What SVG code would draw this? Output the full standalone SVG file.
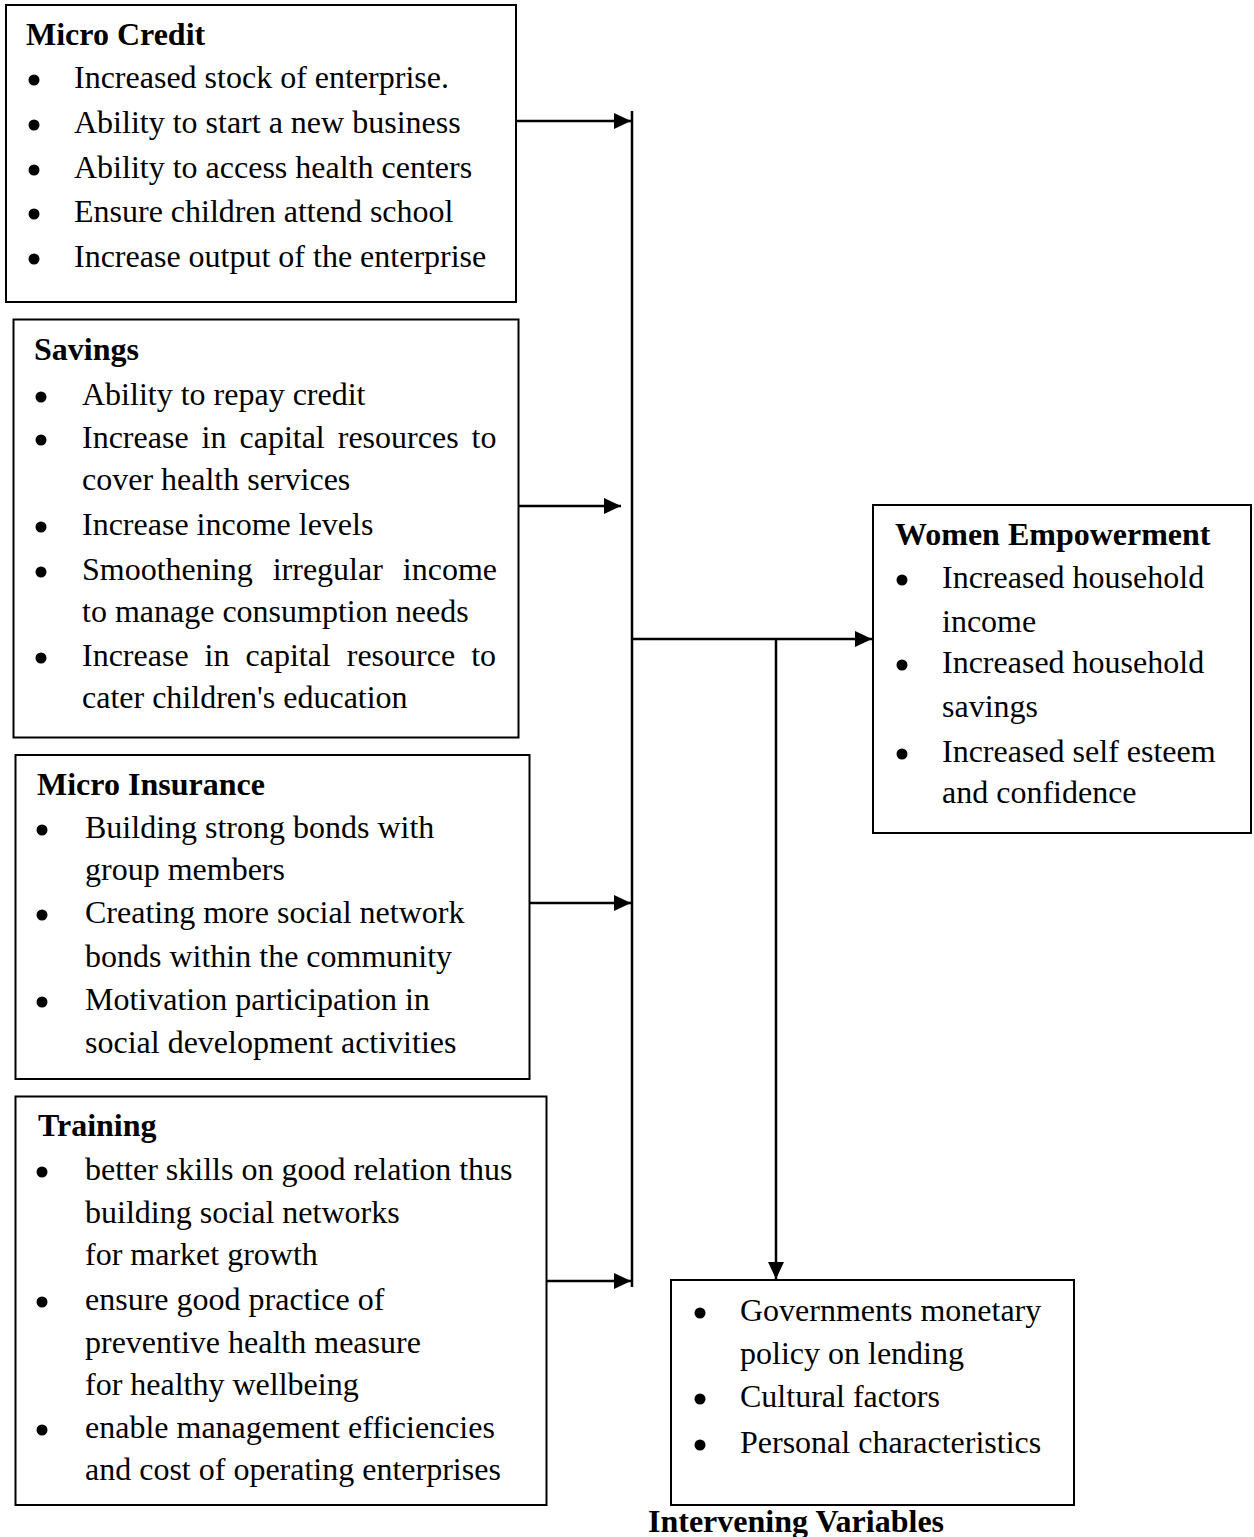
<svg xmlns="http://www.w3.org/2000/svg" width="1254" height="1537" viewBox="0 0 1254 1537">
<style>
.box{fill:#fff;stroke:#000;stroke-width:2}
.t{font-family:"Liberation Serif","Times New Roman",serif;font-size:32px;fill:#000}
.h{font-family:"Liberation Serif","Times New Roman",serif;font-size:32px;font-weight:bold;fill:#000}
.b{fill:#000}
.c{stroke:#000;stroke-width:2.5;fill:none}
</style>
<defs>
<marker id="ah" markerUnits="userSpaceOnUse" viewBox="0 0 17 16" markerWidth="17" markerHeight="16" refX="17" refY="8" orient="auto">
<path d="M0,0 L17,8 L0,16 Z" fill="#000"/>
</marker>
</defs>
<rect width="1254" height="1537" fill="#fff"/>

<g id="micro-credit">
<rect class="box" x="6" y="5" width="510" height="297"/>
<text class="h" x="26" y="45">Micro Credit</text>
<circle class="b" cx="34" cy="80" r="5.5"/><text class="t" x="74" y="88">Increased stock of enterprise.</text>
<circle class="b" cx="34" cy="125" r="5.5"/><text class="t" x="74" y="133">Ability to start a new business</text>
<circle class="b" cx="34" cy="170" r="5.5"/><text class="t" x="74" y="178">Ability to access health centers</text>
<circle class="b" cx="34" cy="214" r="5.5"/><text class="t" x="74" y="222">Ensure children attend school</text>
<circle class="b" cx="34" cy="259" r="5.5"/><text class="t" x="74" y="267">Increase output of the enterprise</text>
</g>

<g id="savings">
<rect class="box" x="13.5" y="319.5" width="505" height="418"/>
<text class="h" x="34" y="360">Savings</text>
<circle class="b" cx="41" cy="397" r="5.5"/><text class="t" x="82" y="405">Ability to repay credit</text>
<circle class="b" cx="41" cy="440" r="5.5"/><text class="t" x="82" y="448" word-spacing="5">Increase in capital resources to</text>
<text class="t" x="82" y="490">cover health services</text>
<circle class="b" cx="41" cy="527" r="5.5"/><text class="t" x="82" y="535">Increase income levels</text>
<circle class="b" cx="41" cy="572" r="5.5"/><text class="t" x="82" y="580" word-spacing="12">Smoothening irregular income</text>
<text class="t" x="82" y="622">to manage consumption needs</text>
<circle class="b" cx="41" cy="658" r="5.5"/><text class="t" x="82" y="666" word-spacing="8">Increase in capital resource to</text>
<text class="t" x="82" y="708">cater children's education</text>
</g>

<g id="micro-insurance">
<rect class="box" x="15.5" y="755" width="514" height="324"/>
<text class="h" x="37" y="795">Micro Insurance</text>
<circle class="b" cx="42" cy="830" r="5.5"/><text class="t" x="85" y="838">Building strong bonds with</text>
<text class="t" x="85" y="880">group members</text>
<circle class="b" cx="42" cy="915" r="5.5"/><text class="t" x="85" y="923">Creating more social network</text>
<text class="t" x="85" y="967">bonds within the community</text>
<circle class="b" cx="42" cy="1002" r="5.5"/><text class="t" x="85" y="1010">Motivation participation in</text>
<text class="t" x="85" y="1053">social development activities</text>
</g>

<g id="training">
<rect class="box" x="15.5" y="1096.5" width="531" height="408.5"/>
<text class="h" x="38" y="1136">Training</text>
<circle class="b" cx="42" cy="1172" r="5.5"/><text class="t" x="85" y="1180">better skills on good relation thus</text>
<text class="t" x="85" y="1223">building social networks</text>
<text class="t" x="85" y="1265">for market growth</text>
<circle class="b" cx="42" cy="1302" r="5.5"/><text class="t" x="85" y="1310">ensure good practice of</text>
<text class="t" x="85" y="1353">preventive health measure</text>
<text class="t" x="85" y="1395">for healthy wellbeing</text>
<circle class="b" cx="42" cy="1430" r="5.5"/><text class="t" x="85" y="1438">enable management efficiencies</text>
<text class="t" x="85" y="1480">and cost of operating enterprises</text>
</g>

<g id="women-empowerment">
<rect class="box" x="873" y="505" width="378" height="328"/>
<text class="h" x="895" y="545">Women Empowerment</text>
<circle class="b" cx="902" cy="580" r="5.5"/><text class="t" x="942" y="588">Increased household</text>
<text class="t" x="942" y="632">income</text>
<circle class="b" cx="902" cy="665" r="5.5"/><text class="t" x="942" y="673">Increased household</text>
<text class="t" x="942" y="717">savings</text>
<circle class="b" cx="902" cy="754" r="5.5"/><text class="t" x="942" y="762">Increased self esteem</text>
<text class="t" x="942" y="803">and confidence</text>
</g>

<g id="intervening-variables">
<rect class="box" x="671" y="1280" width="403" height="225"/>
<circle class="b" cx="700" cy="1313" r="5.5"/><text class="t" x="740" y="1321">Governments monetary</text>
<text class="t" x="740" y="1364">policy on lending</text>
<circle class="b" cx="700" cy="1399" r="5.5"/><text class="t" x="740" y="1407">Cultural factors</text>
<circle class="b" cx="700" cy="1445" r="5.5"/><text class="t" x="740" y="1453">Personal characteristics</text>
<text class="h" x="648" y="1532">Intervening Variables</text>
</g>

<g id="connectors">
<line class="c" x1="632" y1="111" x2="632" y2="1287"/>
<line class="c" x1="516" y1="121" x2="631" y2="121" marker-end="url(#ah)"/>
<line class="c" x1="519" y1="506" x2="621" y2="506" marker-end="url(#ah)"/>
<line class="c" x1="530" y1="903" x2="631" y2="903" marker-end="url(#ah)"/>
<line class="c" x1="547" y1="1281" x2="631" y2="1281" marker-end="url(#ah)"/>
<line class="c" x1="633" y1="639" x2="872" y2="639" marker-end="url(#ah)"/>
<line class="c" x1="776" y1="639" x2="776" y2="1279" marker-end="url(#ah)"/>
</g>
</svg>
